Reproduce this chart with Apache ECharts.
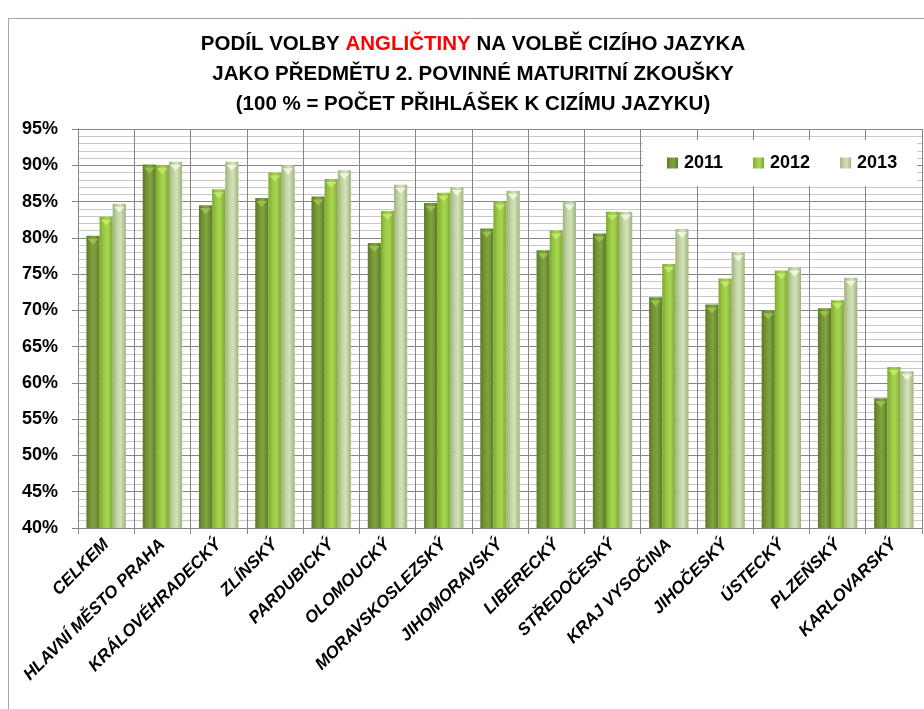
<!DOCTYPE html>
<html>
<head>
<meta charset="utf-8">
<script src="https://cdn.jsdelivr.net/npm/echarts@6/dist/echarts.min.js"></script>
<style>
  html, body { margin: 0; padding: 0; background: #fff; }
  #chart { width: 924px; height: 709px; }
</style>
</head>
<body>
<div id="chart"></div>
<script>
var regions = ['CELKEM', 'HLAVNÍ MĚSTO PRAHA', 'KRÁLOVÉHRADECKÝ', 'ZLÍNSKÝ', 'PARDUBICKÝ',
    'OLOMOUCKÝ', 'MORAVSKOSLEZSKÝ', 'JIHOMORAVSKÝ', 'LIBERECKÝ', 'STŘEDOČESKÝ',
    'KRAJ VYSOČINA', 'JIHOČESKÝ', 'ÚSTECKÝ', 'PLZEŇSKÝ', 'KARLOVARSKÝ'];
var years = ['2011', '2012', '2013'];
var v2011 = [80.3, 90.1, 84.5, 85.5, 85.7, 79.3, 84.8, 81.3, 78.3, 80.6, 71.8, 70.8, 70.0, 70.3, 57.9];
var v2012 = [82.9, 90.0, 86.7, 89.0, 88.1, 83.7, 86.2, 85.0, 81.0, 83.6, 76.4, 74.4, 75.5, 71.4, 62.2];
var v2013 = [84.7, 90.5, 90.5, 90.0, 89.3, 87.3, 87.0, 86.5, 85.0, 83.6, 81.2, 78.0, 75.9, 74.5, 61.6];
var yTicks = [40, 95, 5];

var font = "'Liberation Sans', Arial, sans-serif";

function barColor(edge, mid, light) {
    return new echarts.graphic.LinearGradient(0, 0, 1, 0, [
        {offset: 0, color: edge},
        {offset: 0.35, color: mid},
        {offset: 0.6, color: light},
        {offset: 1, color: edge}
    ]);
}
var colors = [
    barColor('#5b7a24', '#76973a', '#80a340'),
    barColor('#7ea832', '#9ccb44', '#a9d452'),
    barColor('#9fb283', '#c4d6a2', '#d4e2b8')
];
var capColors = ['#9cc04e', '#c2e76e', '#eef5e0'];
var legendColors = ['#6e8f30', '#94c03f', '#c0d0a4'];

var series = [];
[v2011, v2012, v2013].forEach(function (d, i) {
    series.push({
        name: years[i],
        type: 'bar',
        data: d,
        barGap: '0%',
        barCategoryGap: '30%',
        itemStyle: {color: colors[i]},
        emphasis: {disabled: true}
    });
});
// pyramid caps on the bar tops
[v2011, v2012, v2013].forEach(function (d, i) {
    series.push({
        name: 'cap' + years[i],
        type: 'pictorialBar',
        data: d,
        barGap: '0%',
        barCategoryGap: '30%',
        symbol: 'triangle',
        symbolRotate: 180,
        symbolSize: ['80%', 6],
        symbolPosition: 'end',
        symbolOffset: [0, 3],
        itemStyle: {color: capColors[i]},
        emphasis: {disabled: true},
        z: 3
    });
});

var chart = echarts.init(document.getElementById('chart'));
chart.setOption({
    animation: false,
    color: legendColors,
    graphic: [{
        type: 'rect',
        shape: {x: 8.5, y: 18.5, width: 1000, height: 800},
        style: {fill: 'none', stroke: '#a6a6a6', lineWidth: 1},
        z: 0
    }],
    title: {
        text: '{b|PODÍL VOLBY }{r|ANGLIČTINY}{b| NA VOLBĚ CIZÍHO JAZYKA}\n{b|JAKO PŘEDMĚTU 2. POVINNÉ MATURITNÍ ZKOUŠKY}\n{b|(100 % = POČET PŘIHLÁŠEK K CIZÍMU JAZYKU)}',
        left: 468,
        top: 24,
        textAlign: 'center',
        textStyle: {
            rich: {
                b: {fontFamily: font, fontWeight: 'bold', fontSize: 20.5, color: '#000', lineHeight: 30},
                r: {fontFamily: font, fontWeight: 'bold', fontSize: 20.5, color: '#ff0000', lineHeight: 30}
            }
        }
    },
    legend: {
        data: years,
        left: 643,
        top: 140,
        width: 277,
        padding: [14, 20, 14, 24],
        backgroundColor: '#fff',
        itemWidth: 11,
        itemHeight: 11,
        itemGap: 30,
        icon: 'rect',
        textStyle: {fontFamily: font, fontWeight: 'bold', fontSize: 18, color: '#000', padding: [0, 0, 0, 1]}
    },
    grid: {left: 78, right: 2, top: 129, bottom: 181, containLabel: false},
    xAxis: {
        type: 'category',
        data: regions,
        axisLine: {show: true, lineStyle: {color: '#868686'}},
        axisTick: {show: true, length: 6, lineStyle: {color: '#868686'}},
        splitLine: {show: true, lineStyle: {color: '#868686'}},
        axisLabel: {
            interval: 0,
            rotate: 45,
            margin: 14,
            fontFamily: font,
            fontWeight: 'bold',
            fontStyle: 'italic',
            fontSize: 17,
            color: '#000'
        }
    },
    yAxis: {
        type: 'value',
        min: yTicks[0],
        max: yTicks[1],
        interval: yTicks[2],
        axisLine: {show: true, lineStyle: {color: '#868686'}},
        axisTick: {show: true, inside: false, length: 6, lineStyle: {color: '#868686'}},
        splitLine: {show: true, lineStyle: {color: '#868686'}},
        minorTick: {show: false, splitNumber: 5},
        minorSplitLine: {show: true, lineStyle: {color: '#c8c8c8'}},
        axisLabel: {
            formatter: '{value}%',
            margin: 20,
            fontFamily: font,
            fontWeight: 'bold',
            fontSize: 18,
            color: '#000'
        }
    },
    series: series
});
</script>
</body>
</html>
